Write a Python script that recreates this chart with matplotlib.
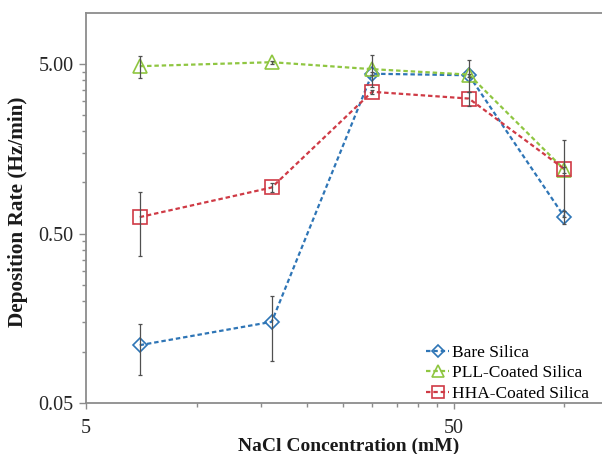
#!/usr/bin/env python3
"""Deposition rate vs NaCl concentration for bare / PLL / HHA-coated silica (log-log)."""

import matplotlib
matplotlib.use("Agg")
import matplotlib.pyplot as plt
from matplotlib.ticker import FixedLocator, NullFormatter

# --------------------------------------------------------------------------- #
# Data
# --------------------------------------------------------------------------- #
nacl_mm = [7, 16, 30, 55, 100]

bare = [0.110, 0.151, 4.37, 4.28, 0.627]
bare_err = [0.037, 0.062, 0.10, 0.10, 0.055]

pll = [4.84, 5.11, 4.65, 4.32, 1.19]
pll_err = [0.74, 0.10, 1.00, 0.92, 0.05]

hha = [0.625, 0.934, 3.42, 3.12, 1.20]
hha_err = [0.256, 0.06, 0.10, 0.30, 0.57]

series_names = ["Bare Silica", "PLL-Coated Silica", "HHA-Coated Silica"]

y_major = [0.05, 0.5, 5.0]
y_major_labels = ["0.05", "0.50", "5.00"]
x_major = [5, 50]
x_major_labels = ["5", "50"]

SERIF = ["Liberation Serif", "DejaVu Serif"]
GREY = "#8c8c8c"

# --------------------------------------------------------------------------- #
# Plot
# --------------------------------------------------------------------------- #
fig = plt.figure(figsize=(6.02, 4.54), dpi=100)
ax = fig.add_axes([86 / 602, 50.7 / 454, 516 / 602, 390.6 / 454])

styles = [
    (bare, bare_err, "#2e75b6", "D", 7.0),
    (pll, pll_err, "#8fc641", "^", 9.5),
    (hha, hha_err, "#cf3a45", "s", 9.5),
]

for (vals, errs, color, marker, ms), name in zip(styles, series_names):
    ax.plot(nacl_mm, vals, color=color, linestyle="--", dashes=(2.0, 1.3),
            linewidth=1.6, marker=marker, markersize=ms, markerfacecolor="none",
            markeredgecolor=color, markeredgewidth=1.2, label=name, zorder=2)

for vals, errs, color, marker, ms in styles:
    ax.errorbar(nacl_mm, vals, yerr=errs, fmt="none", ecolor="#505050",
                elinewidth=0.9, capsize=1.6, capthick=0.9, zorder=3)

ax.set_xscale("log")
ax.set_yscale("log")
ax.set_xlim(5, 126.6)
ax.set_ylim(0.05, 10)

# Excel-like tick layout
ax.xaxis.set_major_locator(FixedLocator(x_major))
ax.set_xticklabels(x_major_labels)
ax.xaxis.set_minor_locator(FixedLocator([10, 15, 20, 25, 30, 35, 40, 45, 100]))
ax.xaxis.set_minor_formatter(NullFormatter())

y_minor = [0.05 * k for k in range(2, 10)] + [0.5 * k for k in range(2, 10)]
ax.yaxis.set_major_locator(FixedLocator(y_major))
ax.set_yticklabels(y_major_labels)
ax.yaxis.set_minor_locator(FixedLocator(y_minor))
ax.yaxis.set_minor_formatter(NullFormatter())

for spine in ("left", "bottom", "top"):
    ax.spines[spine].set_color(GREY)
    ax.spines[spine].set_linewidth(1.3)
ax.spines["right"].set_visible(False)

ax.tick_params(axis="both", which="both", direction="out", color=GREY, width=1.0)
ax.tick_params(axis="y", which="major", length=5, pad=4)
ax.tick_params(axis="y", which="minor", length=3)
ax.tick_params(axis="x", which="major", length=4, pad=7)
ax.tick_params(axis="x", which="minor", length=3)
for lbl in ax.get_xticklabels() + ax.get_yticklabels():
    lbl.set_family(SERIF)
    lbl.set_fontsize(14.5)
    lbl.set_color("#262626")

ax.set_xlabel("NaCl Concentration (mM)", family=SERIF, fontsize=14,
              fontweight="bold", color="#1a1a1a")
ax.xaxis.set_label_coords(0.508, -0.109)
ax.xaxis.label.set_va("center")
ax.set_ylabel("Deposition Rate (Hz/min)", family=SERIF, fontsize=15.3,
              fontweight="bold", color="#1a1a1a")
ax.yaxis.set_label_coords(-0.131, 0.491)
ax.yaxis.label.set_va("center")

ax.legend(loc="lower left", bbox_to_anchor=(0.659, 0.004), frameon=False,
          prop={"family": SERIF, "size": 12.5}, borderpad=0, borderaxespad=0,
          handlelength=1.35, handletextpad=0.15, labelspacing=0.24, markerscale=0.85)

fig.savefig("out.png", dpi=100)
